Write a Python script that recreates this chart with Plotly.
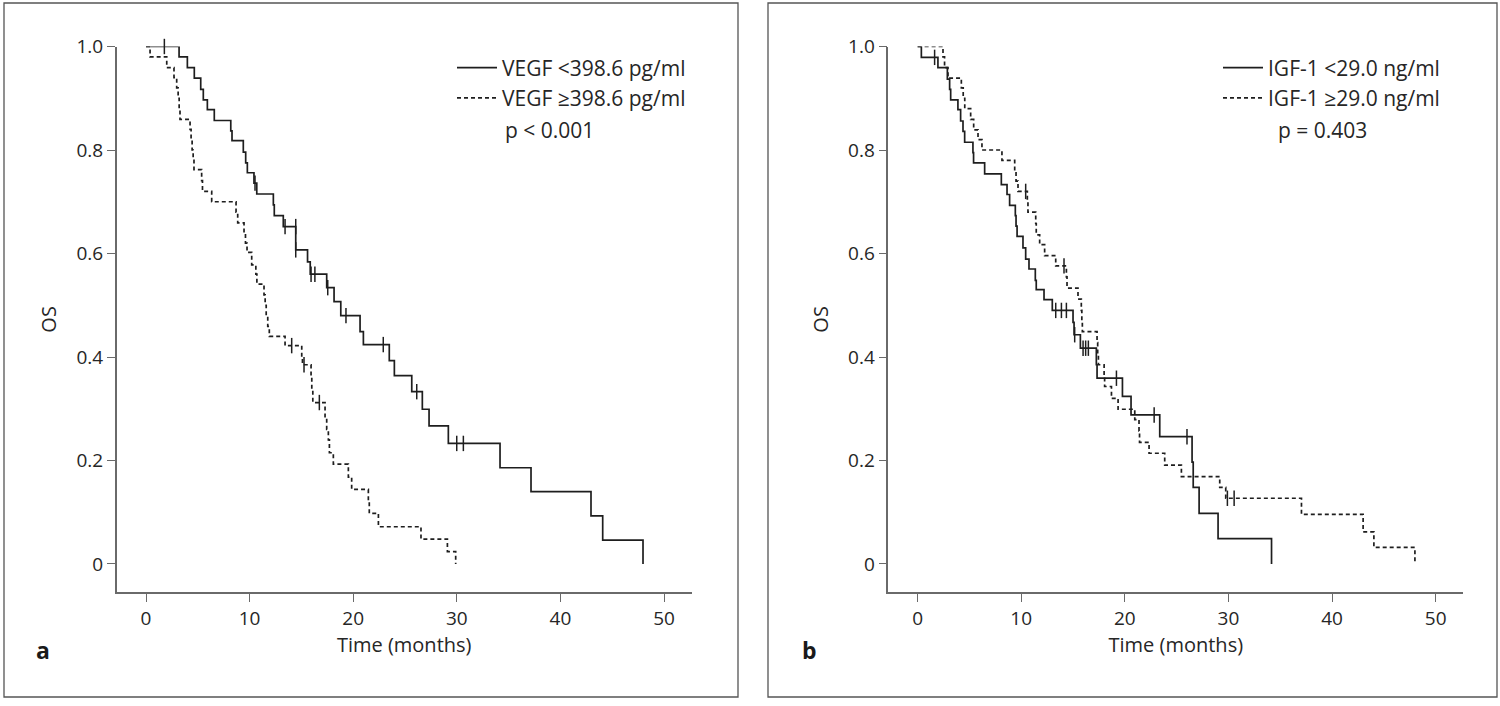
import plotly.graph_objects as go

# ---------------- data ----------------
# Panel a: VEGF
a_low_t = [0, 3.19, 3.99, 4.66, 5.28, 5.53, 5.92, 6.59, 8.18, 8.30, 9.39, 9.62, 9.78,
           10.42, 10.69, 12.29, 12.38, 13.25, 14.45, 15.59, 15.85, 17.44, 18.15, 18.80,
           20.66, 20.98, 23.48, 23.97, 25.65, 26.67, 27.32, 29.18, 34.17, 37.16, 42.95,
           44.08, 47.97]
a_low_s = [1.0, .980, .959, .939, .917, .897, .878, .857, .837, .818, .796, .775, .756,
           .736, .715, .694, .673, .652, .607, .584, .560, .534, .507, .480,
           .449, .424, .393, .364, .333, .299, .267, .233, .186, .140, .093,
           .046, 0.0]
a_low_cens_t = [1.77, 10.52, 13.42, 14.45, 14.45, 15.93, 16.3, 17.54, 19.3, 22.9, 26.13, 29.99, 30.63]
a_low_cens_s = [1.0, .736, .652, .652, .607, .560, .560, .534, .480, .424, .333, .233, .233]

a_high_t = [0, 0.39, 2.0, 2.7, 2.96, 3.1, 3.2, 3.28, 4.25, 4.35, 4.45, 4.55, 4.63,
            5.37, 5.45, 6.34, 8.69, 8.85, 9.46, 9.6, 9.75, 10.2, 10.6, 10.7,
            11.39, 11.5, 11.6, 11.75, 11.9, 13.42, 15.03, 15.1, 15.93, 16.0, 16.1,
            17.28, 17.44, 17.6, 17.7, 18.08, 19.53, 19.85, 21.46, 21.55, 22.43,
            26.54, 29.09, 29.89]
a_high_s = [1.0, .980, .959, .94, .92, .90, .88, .859, .84, .82, .80, .78, .762,
            .741, .72, .70, .68, .659, .64, .62, .602, .578, .56, .541,
            .52, .50, .48, .459, .44, .422, .40, .385, .36, .336, .312,
            .282, .26, .24, .215, .193, .168, .144, .121, .098, .072,
            .048, .024, 0.0]
a_high_cens_t = [14.06, 15.25, 16.73]
a_high_cens_s = [.422, .385, .312]

# Panel b: IGF-1
b_low_t = [0, 0.36, 1.96, 2.87, 3.09, 3.19, 3.89, 4.15, 4.38, 4.54, 5.34, 5.4, 6.47,
           8.08, 8.63, 8.88, 9.43, 9.5, 9.6, 10.17, 10.43, 10.75, 11.36, 11.45, 12.2,
           13.0, 15.0, 15.1, 15.71, 17.25, 17.32, 19.77, 20.6, 23.37, 26.49, 26.6,
           27.17, 29.0, 34.16]
b_low_s = [1.0, .979, .959, .937, .917, .897, .878, .856, .836, .815, .795, .775, .754,
           .733, .714, .693, .673, .653, .633, .611, .589, .570, .548, .530, .511,
           .490, .467, .443, .417, .385, .359, .324, .288, .246, .197, .148,
           .098, .049, 0.0]
b_low_cens_t = [1.64, 13.33, 13.88, 14.36, 15.16, 15.97, 16.22, 16.48, 19.19, 22.83, 26.0]
b_low_cens_s = [.979, .490, .490, .490, .443, .417, .417, .417, .359, .288, .246]

b_high_t = [0, 2.45, 2.6, 2.93, 4.22, 4.4, 4.55, 5.12, 5.41, 5.83, 6.21, 8.14, 9.37,
            9.5, 9.69, 10.59, 10.65, 11.4, 11.45, 11.78, 12.26, 13.33, 14.36, 14.42,
            15.48, 15.8, 15.85, 15.9, 17.32, 17.38, 17.45, 18.0, 18.05, 18.71, 19.35,
            20.96, 21.37, 21.42, 22.34, 23.85, 25.46, 29.16, 29.74, 37.05, 43.0,
            44.04, 48.0]
b_high_s = [1.0, .98, .959, .939, .92, .90, .88, .859, .839, .82, .80, .78, .76,
            .74, .72, .70, .68, .658, .636, .617, .596, .576, .555, .533,
            .512, .49, .47, .449, .428, .406, .385, .364, .343, .32, .299,
            .279, .257, .235, .214, .191, .169, .148, .127, .096, .062,
            .032, 0.0]
b_high_cens_t = [10.43, 14.13, 29.9, 30.55]
b_high_cens_s = [.72, .576, .127, .127]

x_ticks = [0, 10, 20, 30, 40, 50]
y_ticks = [0, 0.2, 0.4, 0.6, 0.8, 1.0]
y_ticktext = ["0", "0.2", "0.4", "0.6", "0.8", "1.0"]

legend_a = ["VEGF <398.6 pg/ml", "VEGF \u2265398.6 pg/ml"]
legend_b = ["IGF-1 <29.0 ng/ml", "IGF-1 \u226529.0 ng/ml"]
p_a = "p < 0.001"
p_b = "p = 0.403"

# ---------------- styling ----------------
W, H = 1500, 706
FONT = "Open Sans"
INK = "#1e1e1e"
TXT = "#262626"
AXC = "#6a6a6a"
DASH = "4px,3px"


def px(x):
    return x / W


def py(y):
    return 1 - y / H


fig = go.Figure()


def add_group(t, s, ct, cs, name, dash, xa, ya, legend, rank):
    fig.add_trace(go.Scatter(
        x=t, y=s, mode="lines", line=dict(color=INK, width=1.7, dash=dash, shape="hv"),
        name=name, xaxis=xa, yaxis=ya, legend=legend, legendgroup=name,
        legendrank=rank, cliponaxis=False, hoverinfo="skip"))
    fig.add_trace(go.Scatter(
        x=ct, y=cs, mode="markers",
        marker=dict(symbol="line-ns-open", size=11, color=INK,
                    line=dict(color=INK, width=1.5)),
        showlegend=False, xaxis=xa, yaxis=ya, cliponaxis=False, hoverinfo="skip"))


add_group(a_low_t, a_low_s, a_low_cens_t, a_low_cens_s, legend_a[0], "solid", "x", "y", "legend", 1)
add_group(a_high_t, a_high_s, a_high_cens_t, a_high_cens_s, legend_a[1], DASH, "x", "y", "legend", 2)
add_group(b_low_t, b_low_s, b_low_cens_t, b_low_cens_s, legend_b[0], "solid", "x2", "y2", "legend2", 1)
add_group(b_high_t, b_high_s, b_high_cens_t, b_high_cens_s, legend_b[1], DASH, "x2", "y2", "legend2", 2)

xrange = [-2.83, 52.67]
yrange = [-0.0547, 1.0]

axis_common = dict(
    showline=True, linecolor=AXC, linewidth=1.5, showgrid=False, zeroline=False,
    ticks="outside", ticklen=8, tickwidth=1.4, tickcolor=AXC, automargin=False,
    tickfont=dict(family=FONT, size=19, color=TXT),
)

ydom = [py(592.3), py(46.5)]

fig.update_layout(
    width=W, height=H, paper_bgcolor="white", plot_bgcolor="white",
    margin=dict(l=0, r=0, t=0, b=0, pad=0, autoexpand=False),
    font=dict(family=FONT, color=TXT),
    xaxis=dict(domain=[px(116.7), px(691.7)], range=xrange, anchor="y",
               tickvals=x_ticks, title=dict(text="Time (months)", standoff=8,
                                            font=dict(family=FONT, size=20)),
               **axis_common),
    yaxis=dict(domain=ydom, range=yrange, anchor="x", tickvals=y_ticks, ticktext=y_ticktext,
               title=dict(text="OS", standoff=14, font=dict(family=FONT, size=20)),
               **axis_common),
    xaxis2=dict(domain=[px(888.3), px(1463.3)], range=xrange, anchor="y2",
                tickvals=x_ticks, title=dict(text="Time (months)", standoff=8,
                                             font=dict(family=FONT, size=20)),
                **axis_common),
    yaxis2=dict(domain=ydom, range=yrange, anchor="x2", tickvals=y_ticks, ticktext=y_ticktext,
                title=dict(text="OS", standoff=14, font=dict(family=FONT, size=20)),
                **axis_common),
    legend=dict(x=px(452), y=py(47.5), xanchor="left", yanchor="top",
                bgcolor="rgba(0,0,0,0)", borderwidth=0, itemwidth=40,
                font=dict(family=FONT, size=21, color=TXT),
                traceorder="normal", tracegroupgap=0),
    legend2=dict(x=px(1218), y=py(47.5), xanchor="left", yanchor="top",
                 bgcolor="rgba(0,0,0,0)", borderwidth=0, itemwidth=40,
                 font=dict(family=FONT, size=21, color=TXT),
                 traceorder="normal", tracegroupgap=0),
    showlegend=True,
)

# panel frames
for x0, x1 in [(4, 738), (768, 1497)]:
    fig.add_shape(type="rect", xref="paper", yref="paper",
                  x0=px(x0), x1=px(x1), y0=py(697), y1=py(3),
                  line=dict(color="#555555", width=1.3), fillcolor="rgba(0,0,0,0)")

# p-values and panel letters
fig.add_annotation(xref="paper", yref="paper", x=px(503), y=py(130), text=p_a,
                   showarrow=False, xanchor="left", yanchor="middle",
                   font=dict(family=FONT, size=21, color=TXT))
fig.add_annotation(xref="paper", yref="paper", x=px(1276), y=py(130), text=p_b,
                   showarrow=False, xanchor="left", yanchor="middle",
                   font=dict(family=FONT, size=21, color=TXT))
fig.add_annotation(xref="paper", yref="paper", x=px(43), y=py(650), text="<b>a</b>",
                   showarrow=False, xanchor="center", yanchor="middle",
                   font=dict(family=FONT, size=23, color="#1a1a1a"))
fig.add_annotation(xref="paper", yref="paper", x=px(809), y=py(650), text="<b>b</b>",
                   showarrow=False, xanchor="center", yanchor="middle",
                   font=dict(family=FONT, size=23, color="#1a1a1a"))

fig.write_html("out.html", config={"displayModeBar": False},
               post_script="document.body.style.margin='0px';")
